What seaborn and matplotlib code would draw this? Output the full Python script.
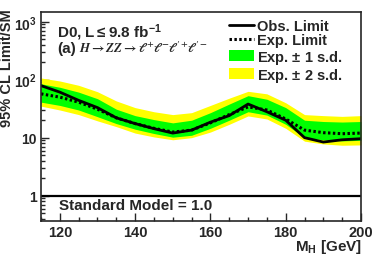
import numpy as np
import pandas as pd
import matplotlib
matplotlib.use("Agg")
import matplotlib.pyplot as plt
import seaborn as sns
from matplotlib.lines import Line2D
from matplotlib.patches import Patch
from matplotlib.ticker import FixedLocator, LogLocator, NullFormatter

# ─── DATA ─────────────────────────────────────────────────────
mass = [115, 120, 125, 130, 135, 140, 145, 150, 155, 160,
        165, 170, 175, 180, 185, 190, 195, 200]
obs = [79, 61, 44, 33, 22, 17.5, 14.3, 12, 13.5, 18.5,
       24, 38, 28, 20, 10, 8.4, 9.2, 9.6]
exp_ = [57, 50, 41, 31, 22, 17.5, 14.5, 12.5, 13.5, 18,
        25, 34, 30, 21, 13.5, 12.2, 11.7, 12]
exp_m1 = [41, 36, 30, 23, 17.5, 14, 11.8, 10.2, 11, 14.5,
          20, 28, 24.5, 17, 10, 9.2, 8.8, 9]
exp_p1 = [85, 74, 61, 47, 31, 24, 20.5, 18, 20, 27,
          38, 53, 46, 33, 20, 19, 18.6, 19]
exp_m2 = [35, 30, 25, 19.5, 15.5, 12, 10.3, 9.2, 10, 12.5,
          17, 23.7, 21, 14.5, 8.7, 7.8, 7.4, 7.5]
exp_p2 = [107, 95, 80, 62, 43, 33, 28, 25, 27, 36,
          48, 63, 57, 40, 25, 24, 23.3, 24]

df = pd.DataFrame({"MH": mass, "Obs": obs, "Exp": exp_})

BOLD = "Liberation Sans"
plt.rcParams["mathtext.fontset"] = "custom"
plt.rcParams["mathtext.rm"] = "Liberation Sans:bold"
plt.rcParams["mathtext.bf"] = "Liberation Sans:bold"
plt.rcParams["mathtext.it"] = "Liberation Sans:bold"

sns.set_style("ticks")
plt.rcParams["font.family"] = [BOLD, "DejaVu Sans"]
plt.rcParams["font.weight"] = "bold"

fig = plt.figure(figsize=(3.74, 2.55), dpi=100)
ax = fig.add_axes([41 / 374, 1 - 221.7 / 255, 320 / 374, 208.7 / 255])

# bands
ax.fill_between(mass, exp_m2, exp_p2, color="#FFFF00", lw=0)
ax.fill_between(mass, exp_m1, exp_p1, color="#00FF00", lw=0)

sns.lineplot(data=df, x="MH", y="Exp", ax=ax, color="black", lw=2.2,
             linestyle=(0, (0.8, 0.8)))
sns.lineplot(data=df, x="MH", y="Obs", ax=ax, color="black", lw=2.0)
ax.axhline(1, color="black", lw=1.6)

ax.set_yscale("log")
ax.set_xlim(115, 200)
ax.set_ylim(0.37, 1470)
ax.set_xlabel("")
ax.set_ylabel("")

ax.xaxis.set_major_locator(FixedLocator([120, 140, 160, 180, 200]))
ax.xaxis.set_minor_locator(FixedLocator(np.arange(115, 201, 5)))
ax.yaxis.set_major_locator(FixedLocator([1, 10, 100, 1000]))
ax.yaxis.set_minor_locator(LogLocator(base=10, subs=np.arange(2, 10)))
ax.yaxis.set_minor_formatter(NullFormatter())
ax.set_yticklabels(["1", "10", r"$10^{2}$", r"$10^{3}$"])
ax.set_xticklabels(["120", "140", "160", "180", "200"])

ax.tick_params(which="both", direction="in", top=False, right=False,
               width=1.0, pad=3)
ax.tick_params(axis="y", labelsize=10)
ax.tick_params(axis="x", labelsize=10.5)
ax.tick_params(which="major", length=6)
ax.tick_params(which="minor", length=3)
for lab in ax.get_xticklabels() + ax.get_yticklabels():
    lab.set_fontweight("bold")
for sp in ax.spines.values():
    sp.set_linewidth(1.2)

# texts
fig.text(7 / 374, 1 - 9 / 255, "95% CL Limit/SM", rotation=90, ha="center",
         va="top", fontsize=10.5, fontweight="bold")
fig.text(362 / 374, 1 - 247 / 255, r"M$_{\mathrm{H}}$ [GeV]", ha="right",
         va="center", fontsize=11, fontweight="bold")
ax.text(0.05, 0.955, r"D0, L$\leq$9.8 fb$^{-1}$", transform=ax.transAxes,
        ha="left", va="top", fontsize=11, fontweight="bold")
ax.text(0.05, 0.862, "(a)", transform=ax.transAxes, ha="left", va="top",
        fontsize=11, fontweight="bold")
ax.text(0.12, 0.865, r"$H \rightarrow ZZ \rightarrow \ell^{+}\ell^{-}\ell'^{+}\ell'^{-}$",
        transform=ax.transAxes, ha="left", va="top", fontsize=9.3,
        math_fontfamily="stix")
ax.text(0.057, 0.075, "Standard Model = 1.0", transform=ax.transAxes,
        ha="left", va="center", fontsize=11, fontweight="bold")

handles = [Line2D([], [], color="black", lw=2.0),
           Line2D([], [], color="black", lw=2.2, linestyle=(0, (0.8, 0.8))),
           Patch(facecolor="#00FF00", edgecolor="none"),
           Patch(facecolor="#FFFF00", edgecolor="none")]
labels = ["Obs. Limit", "Exp. Limit", r"Exp. $\pm$ 1 s.d.", r"Exp. $\pm$ 2 s.d."]
leg = ax.legend(handles, labels, loc="upper left",
                bbox_to_anchor=((226 - 41) / 320, 1.0 - 4 / 208.7),
                frameon=False, fontsize=10.5, handlelength=1.75,
                handleheight=0.8, handletextpad=0.2, labelspacing=0.02,
                borderpad=0.2, borderaxespad=0)
for t in leg.get_texts():
    t.set_fontweight("bold")

fig.savefig("out.png", dpi=100)
